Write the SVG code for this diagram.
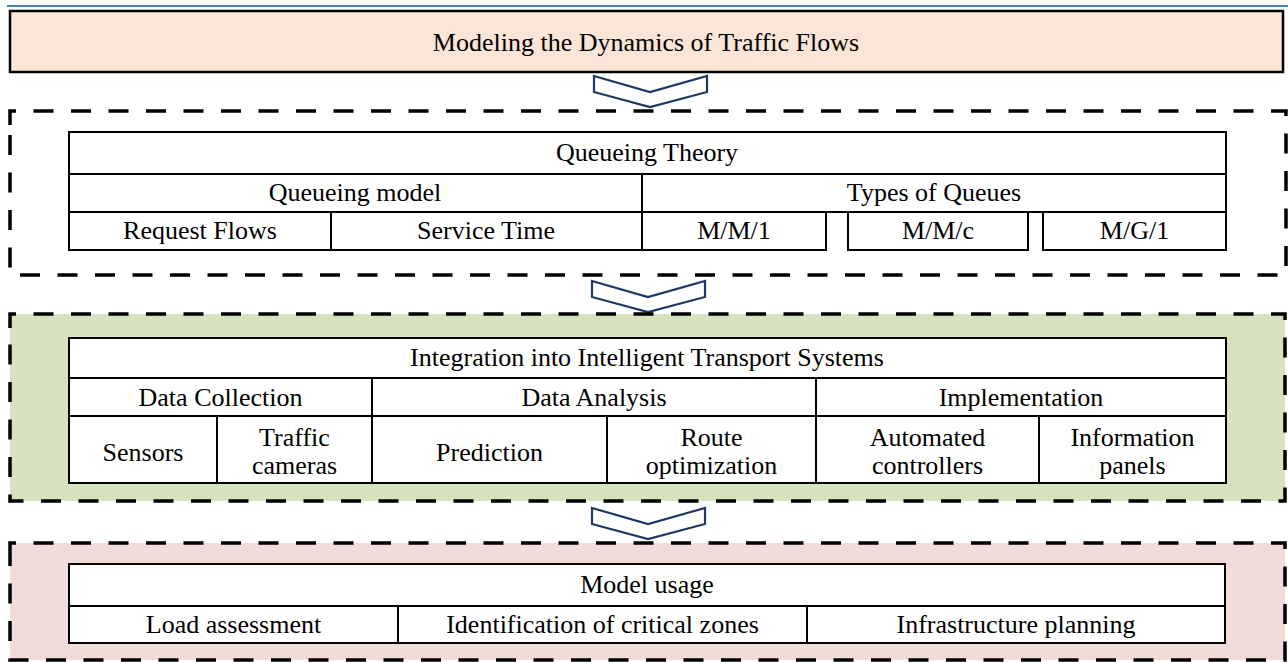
<svg xmlns="http://www.w3.org/2000/svg" width="1288" height="662" viewBox="0 0 1288 662">
<style>
  text { font-family: "Liberation Serif", "Times New Roman", serif; font-size: 26px; fill: #000; text-anchor: middle; }
  .cell { fill: #fff; stroke: #000; stroke-width: 2; }
  .dash { fill: none; stroke: #000; stroke-width: 3.5; stroke-dasharray: 20 17.5; }
  .chev { fill: #fff; stroke: #203864; stroke-width: 2.2; stroke-linejoin: miter; }
</style>
<rect x="0" y="0" width="1288" height="662" fill="#fff"/>
<line x1="7" y1="6" x2="1288" y2="6" stroke="#4F81BD" stroke-width="2"/>

<g id="title">
  <rect x="10" y="11" width="1273" height="61" fill="#FBE5D6" stroke="#000" stroke-width="2.5"/>
  <text x="646" y="51">Modeling the Dynamics of Traffic Flows</text>
</g>

<g id="connectors">
  <path class="chev" d="M594,76 L650,92 L707,76 L707,92 L650,107 L594,92 Z"/>
  <path class="chev" d="M592,281 L648,297 L705,281 L705,297 L648,312 L592,297 Z"/>
  <path class="chev" d="M592,508 L648,524 L705,508 L705,524 L648,539 L592,524 Z"/>
</g>

<g id="queueing">
  <path class="dash" d="M10,125 V111 H1286 V275 H10 Z"/>
  <rect class="cell" x="69" y="132" width="1157" height="42"/>
  <text x="647" y="161">Queueing Theory</text>
  <rect class="cell" x="69" y="174" width="573" height="38"/>
  <text x="355" y="201">Queueing model</text>
  <rect class="cell" x="642" y="174" width="584" height="38"/>
  <text x="934" y="201">Types of Queues</text>
  <rect class="cell" x="69" y="212" width="262" height="38"/>
  <text x="200" y="239">Request Flows</text>
  <rect class="cell" x="331" y="212" width="311" height="38"/>
  <text x="486" y="239">Service Time</text>
  <rect class="cell" x="642" y="212" width="184" height="38"/>
  <text x="734" y="239">M/M/1</text>
  <rect class="cell" x="848" y="212" width="180" height="38"/>
  <text x="938" y="239">M/M/c</text>
  <rect class="cell" x="1043" y="212" width="183" height="38"/>
  <text x="1134.5" y="239">M/G/1</text>
</g>

<g id="its">
  <rect x="10" y="314" width="1275" height="187" fill="#D7E3BF"/>
  <path class="dash" d="M10,328 V314 H1285 V501 H10 Z"/>
  <rect class="cell" x="69" y="338" width="1157" height="40"/>
  <text x="647" y="366">Integration into Intelligent Transport Systems</text>
  <rect class="cell" x="69" y="378" width="303" height="38"/>
  <text x="220.5" y="406">Data Collection</text>
  <rect class="cell" x="372" y="378" width="444" height="38"/>
  <text x="594" y="406">Data Analysis</text>
  <rect class="cell" x="816" y="378" width="410" height="38"/>
  <text x="1021" y="406">Implementation</text>
  <rect class="cell" x="69" y="416" width="148" height="67"/>
  <text x="143" y="461">Sensors</text>
  <rect class="cell" x="217" y="416" width="155" height="67"/>
  <text x="294.5" y="446">Traffic</text>
  <text x="294.5" y="474">cameras</text>
  <rect class="cell" x="372" y="416" width="235" height="67"/>
  <text x="489.5" y="461">Prediction</text>
  <rect class="cell" x="607" y="416" width="209" height="67"/>
  <text x="711.5" y="446">Route</text>
  <text x="711.5" y="474">optimization</text>
  <rect class="cell" x="816" y="416" width="223" height="67"/>
  <text x="927.5" y="446">Automated</text>
  <text x="927.5" y="474">controllers</text>
  <rect class="cell" x="1039" y="416" width="187" height="67"/>
  <text x="1132.5" y="446">Information</text>
  <text x="1132.5" y="474">panels</text>
</g>

<g id="usage">
  <rect x="10" y="543" width="1275" height="117" fill="#F2DCDB"/>
  <path class="dash" d="M10,557 V543 H1285 V660 H10 Z"/>
  <rect class="cell" x="69" y="564" width="1156" height="42"/>
  <text x="647" y="593">Model usage</text>
  <rect class="cell" x="69" y="606" width="329" height="37"/>
  <text x="233.5" y="633">Load assessment</text>
  <rect class="cell" x="398" y="606" width="409" height="37"/>
  <text x="602.5" y="633">Identification of critical zones</text>
  <rect class="cell" x="807" y="606" width="418" height="37"/>
  <text x="1016" y="633">Infrastructure planning</text>
</g>
</svg>
